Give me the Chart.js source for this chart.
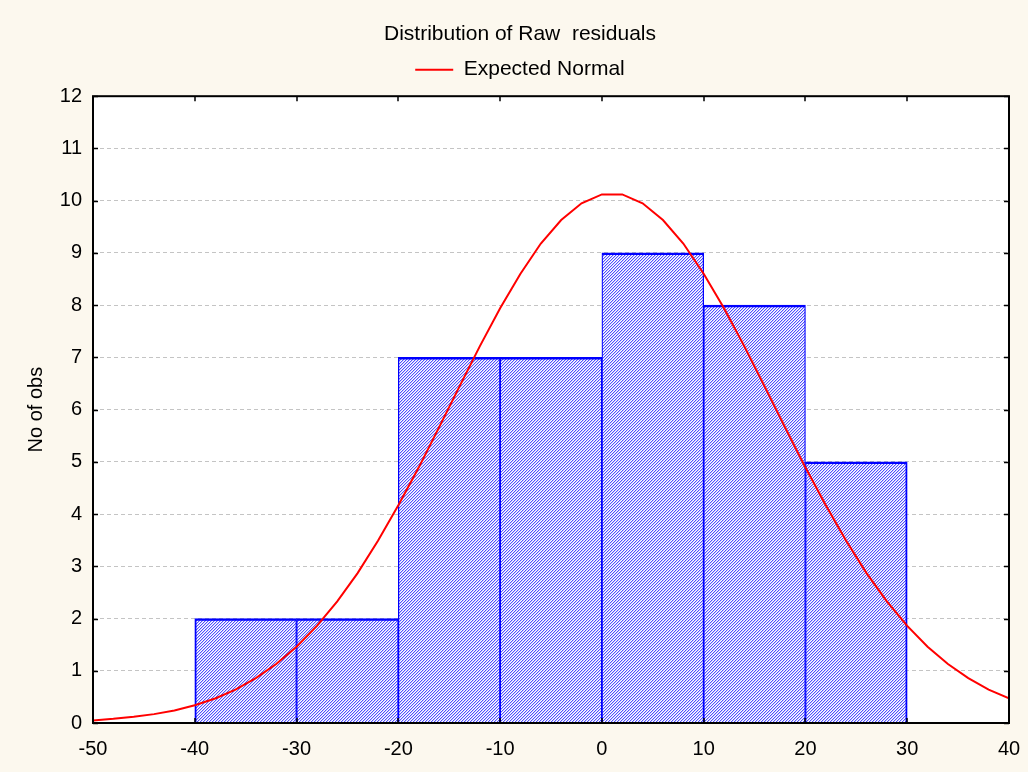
<!DOCTYPE html>
<html>
<head>
<meta charset="utf-8">
<script src="https://cdn.jsdelivr.net/npm/chart.js@4/dist/chart.umd.min.js"></script>
<style>
  html, body { margin: 0; padding: 0; background: #fcf8ee; }
  #wrap { width: 1028px; height: 772px; }
</style>
</head>
<body>
<div id="wrap"><canvas id="chart" width="1028" height="772"></canvas></div>
<script>
// histogram bins (centres) and counts
const binCenters = [-35, -25, -15, -5, 5, 15, 25];
const counts = [2, 2, 7, 7, 9, 8, 5];

// expected normal curve, every 2 units
const normalX = [-50, -48, -46, -44, -42, -40, -38, -36, -34, -32, -30, -28, -26, -24, -22, -20,
  -18, -16, -14, -12, -10, -8, -6, -4, -2, 0, 2, 4, 6, 8, 10, 12, 14, 16, 18, 20,
  22, 24, 26, 28, 30, 32, 34, 36, 38, 40];
const normalY = [0.05, 0.08, 0.12, 0.17, 0.24, 0.34, 0.47, 0.64, 0.86, 1.13, 1.46, 1.86, 2.33, 2.87, 3.49, 4.17,
  4.89, 5.66, 6.44, 7.21, 7.94, 8.60, 9.18, 9.63, 9.95, 10.12, 10.12, 9.95, 9.63, 9.18, 8.60, 7.94,
  7.21, 6.44, 5.66, 4.89, 4.17, 3.49, 2.87, 2.33, 1.86, 1.46, 1.13, 0.86, 0.64, 0.47];

const xTicks = [-50, -40, -30, -20, -10, 0, 10, 20, 30, 40];
const yTicks = [0, 1, 2, 3, 4, 5, 6, 7, 8, 9, 10, 11, 12];

const d = document;
const ctx = d.getElementById("chart");

// hatch fill like the original ////
const hatch = (() => {
    const c = d.createElement("canvas");
    c.width = 3; c.height = 3;
    const g = c.getContext("2d");
    const cols = ["#5050ff", "#c8c8ff", "#ffffff"];
    for (let x = 0; x < 3; x++) {
        for (let y = 0; y < 3; y++) {
            g.fillStyle = cols[(x + y) % 3];
            g.fillRect(x, y, 1, 1);
        }
    }
    return g.createPattern(c, "repeat");
})();

const frame = {
    id: "frame",
    beforeDatasetsDraw(chart) {
        const a = chart.chartArea, c = chart.ctx;
        c.save();
        c.globalCompositeOperation = "destination-over";
        c.fillStyle = "#ffffff";
        c.fillRect(a.left, a.top, a.right - a.left, a.bottom - a.top);
        c.restore();
    },
    afterDraw(chart) {
        const a = chart.chartArea, c = chart.ctx;
        const sx = chart.scales.x, sy = chart.scales.y;
        c.save();
        c.strokeStyle = "#000";
        c.lineWidth = 2;
        c.strokeRect(a.left, a.top, a.right - a.left, a.bottom - a.top);
        c.lineWidth = 1.5;
        c.beginPath();
        yTicks.forEach(v => {
            const y = Math.round(sy.getPixelForValue(v)) + 0.5;
            c.moveTo(a.left, y); c.lineTo(a.left + 5, y);
            c.moveTo(a.right, y); c.lineTo(a.right - 5, y);
        });
        xTicks.forEach(v => {
            const x = Math.round(sx.getPixelForValue(v));
            c.moveTo(x, a.bottom); c.lineTo(x, a.bottom - 5);
            c.moveTo(x, a.top); c.lineTo(x, a.top + 5);
        });
        c.stroke();
        c.restore();
    }
};

const font = { family: "'Liberation Sans', Arial, sans-serif", size: 20 };

new Chart(ctx, {
    type: "bar",
    data: {
        datasets: [
            {
                label: "Raw residuals",
                data: binCenters.map((x, i) => ({ x: x, y: counts[i] })),
                backgroundColor: hatch,
                borderColor: "#0000ff",
                borderWidth: c => ({
                    top: 2.5,
                    left: c.dataIndex === 0 ? 2 : 1.25,
                    right: c.dataIndex === counts.length - 1 ? 2 : 1.25,
                    bottom: 0
                }),
                borderSkipped: false,
                barPercentage: 1,
                categoryPercentage: 1,
                order: 2
            },
            {
                type: "line",
                label: "Expected Normal",
                data: normalX.map((x, i) => ({ x: x, y: normalY[i] })),
                borderColor: "#ff0000",
                backgroundColor: "#ff0000",
                borderWidth: 2,
                pointRadius: 0,
                tension: 0,
                order: 1
            }
        ]
    },
    options: {
        responsive: false,
        animation: false,
        layout: { padding: { left: 12, right: 0, top: 0, bottom: 0 } },
        plugins: {
            title: {
                display: true,
                text: "Distribution of Raw  residuals",
                color: "#000",
                font: { family: font.family, size: 21, weight: "normal" },
                padding: { top: 22, bottom: 2 }
            },
            legend: {
                display: true,
                labels: {
                    color: "#000",
                    font: { family: font.family, size: 21 },
                    boxWidth: 38,
                    boxHeight: 2,
                    padding: 10,
                    generateLabels: () => [{
                        text: "Expected Normal",
                        fillStyle: "#ff0000",
                        strokeStyle: "#ff0000",
                        lineWidth: 0,
                        datasetIndex: 1
                    }]
                }
            },
            tooltip: { enabled: false }
        },
        scales: {
            x: {
                type: "linear",
                min: -50,
                max: 40,
                offset: false,
                afterBuildTicks: s => { s.ticks = xTicks.map(v => ({ value: v })); },
                afterFit: s => { s.height = 49; s.paddingRight = 0; s.paddingLeft = 0; },
                grid: { display: false, drawTicks: false },
                border: { display: false },
                ticks: { color: "#000", font: font, padding: 14, maxRotation: 0 }
            },
            x2: {
                type: "linear",
                position: "top",
                min: -50,
                max: 40,
                afterFit: s => { s.height = 6; s.paddingRight = 0; s.paddingLeft = 0; },
                grid: { display: false },
                border: { display: false },
                ticks: { display: false }
            },
            y: {
                min: 0,
                max: 12,
                afterBuildTicks: s => { s.ticks = yTicks.map(v => ({ value: v })); },
                afterFit: s => { s.width = 81; },
                grid: { color: "#c4c4c4", drawTicks: false },
                border: { display: false, dash: [4, 3] },
                ticks: { color: "#000", font: font, padding: 11 },
                title: {
                    display: true,
                    text: "No of obs",
                    color: "#000",
                    font: font,
                    padding: { top: 12, bottom: 0 }
                }
            },
            y2: {
                position: "right",
                min: 0,
                max: 12,
                afterFit: s => { s.width = 19; },
                grid: { display: false },
                border: { display: false },
                ticks: { display: false }
            }
        }
    },
    plugins: [frame]
});
</script>
</body>
</html>
